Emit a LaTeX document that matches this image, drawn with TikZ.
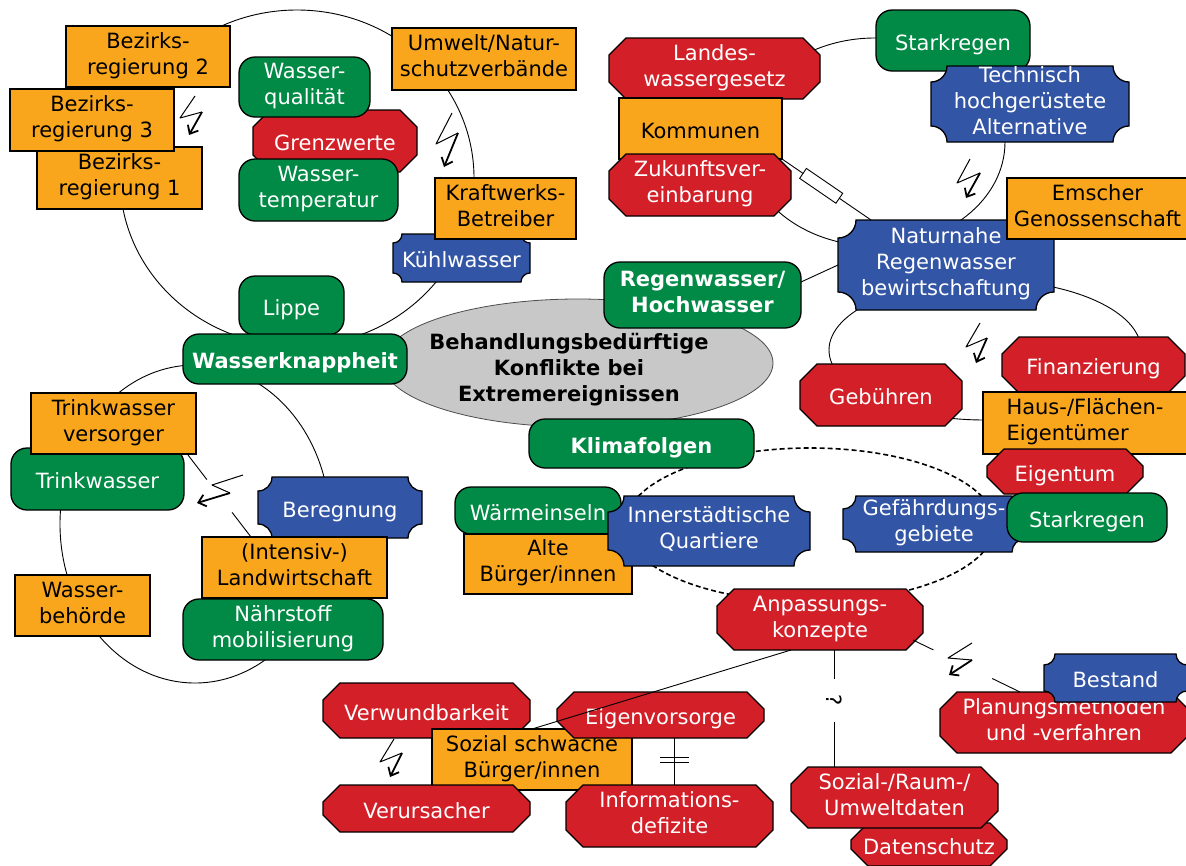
\documentclass[tikz,border=0pt]{standalone}
\usepackage{fontspec}
\setmainfont{DejaVu Sans}
\usetikzlibrary{calc,shapes.geometric,arrows.meta}
\definecolor{cor}{HTML}{F9A61C}
\definecolor{cgr}{HTML}{008A45}
\definecolor{crd}{HTML}{D31F28}
\definecolor{cbl}{HTML}{3355A5}
\definecolor{cgy}{HTML}{C8C8C8}
\tikzset{
  base/.style={inner sep=0pt, outer sep=0pt, align=center, font=\fontsize{21}{26}\selectfont,
    execute at begin node={\rule{0pt}{25pt}}, execute at end node={\rule[-6pt]{0pt}{6pt}}},
  bord/.style={draw=black, line width=1.3pt},
  obox/.style={base, bord, rectangle, fill=cor, text=black},
  gbox/.style={base, bord, rectangle, rounded corners=16pt, fill=cgr, text=white},
  wtxt/.style={base, text=white},
  rshape/.style={bord, fill=crd, line join=miter},
  bshape/.style={bord, fill=cbl},
  ring/.style={line width=0.9pt},
  dring/.style={line width=1.6pt, dash pattern=on 5pt off 3pt},
  boltthin/.style={line width=1pt, line join=round},
  boltarrow/.style={line width=1.8pt, -{Straight Barb[length=7pt,width=12pt]}},
  qmark/.style={inner sep=0pt, font=\fontsize{21}{26}\selectfont, rotate=-90, fill=white, inner xsep=16pt, inner ysep=1pt},
  resist/.style={draw, fill=white, line width=0.9pt, minimum width=44pt, minimum height=12pt, inner sep=0pt},
  boxat/.style n args={4}{minimum width={(#3-#1)*1pt}, minimum height={(#4-#2)*1pt}, at={({(#1+#3)/2},{(#2+#4)/2})}},
}
\newcommand\mkor[6]{\node[obox, boxat={#2}{#3}{#4}{#5}] (#1) {#6};}
\newcommand\mkgr[6]{\node[gbox, boxat={#2}{#3}{#4}{#5}] (#1) {#6};}
\newcommand\mkrd[6]{\draw[rshape] (#2+17,#3) -- (#4-17,#3) -- (#4,#3+17) -- (#4,#5-17) -- (#4-17,#5) -- (#2+17,#5) -- (#2,#5-17) -- (#2,#3+17) -- cycle;
  \node[wtxt, boxat={#2}{#3}{#4}{#5}] (#1) {#6};}
\newcommand\mkbl[7]{\draw[bshape] (#2+#6,#3) -- (#4-#6,#3) arc[start angle=180,end angle=270,radius=#6pt] -- (#4,#5-#6) arc[start angle=90,end angle=180,radius=#6pt] -- (#2+#6,#5) arc[start angle=0,end angle=90,radius=#6pt] -- (#2,#3+#6) arc[start angle=270,end angle=360,radius=#6pt] -- cycle;
  \node[wtxt, boxat={#2}{#3}{#4}{#5}] (#1) {#7};}
\newcommand\mkbolt[8]{\draw[boltthin] (#1,#2) -- (#3,#4) -- (#5,#6); \draw[boltarrow] (#5,#6) -- (#7,#8);}
\begin{document}
\begin{tikzpicture}[x=1pt,y=-1pt]
\fill[white] (0,0) rectangle (1186,865);
\useasboundingbox (0,0) rectangle (1186,865);
% rings
\draw[ring] (297,178) ellipse [x radius=177pt, y radius=168pt];
\draw[ring] (875,142) ellipse [x radius=130pt, y radius=104pt];
\draw[ring] (985,350) ellipse [x radius=156pt, y radius=70pt];
\draw[ring] (195,524) ellipse [x radius=135pt, y radius=159pt];
\draw[dring] (810,525) ellipse [x radius=185pt, y radius=77pt];
% top left group
\mkor{bez2}{66}{26}{230}{87}{Bezirks-\\regierung 2}
\mkor{bez1}{37}{147}{202}{209}{Bezirks-\\regierung 1}
\mkor{bez3}{10}{89}{174}{151}{Bezirks-\\regierung 3}
\mkor{umw}{392}{28}{576}{90}{Umwelt/Natur-\\schutzverbände}
\mkrd{grenz}{253}{110}{417}{172}{Grenzwerte}
\mkgr{wq}{239}{57}{370}{117}{Wasser-\\qualität}
\mkgr{wt}{239}{159}{398}{221}{Wasser-\\temperatur}
\mkbl{kuehl}{393}{234}{530}{282}{9}{Kühlwasser}
\mkor{kraft}{435}{178}{576}{239}{Kraftwerks-\\Betreiber}
\mkgr{lippe}{239}{276}{344}{335}{Lippe}
% center
\node[ellipse, draw=black!70, line width=0.8pt, fill=cgy, minimum width=390pt, minimum height=128pt, inner sep=0pt] (cell) at (578,363) {};
\node[base, font=\fontsize{21}{26}\selectfont\bfseries] (ctext) at (569,370.5) {Behandlungsbedürftige\\Konflikte bei\\Extremereignissen};
\mkgr{wk}{183}{334}{407}{384}{\textbf{Wasserknappheit}}
\mkgr{rw}{604}{262}{801}{328}{\textbf{Regenwasser/}\\\textbf{Hochwasser}}
\mkgr{klima}{529}{419}{754}{468}{\textbf{Klimafolgen}}
% top right group
\mkrd{landes}{609}{38}{820}{99}{Landes-\\wassergesetz}
\mkor{kom}{619}{98}{782}{159}{Kommunen}
\mkrd{zuk}{609}{154}{791}{216}{Zukunftsver-\\einbarung}
\mkgr{stark1}{876}{10}{1030}{71}{Starkregen}
\mkbl{tech}{931}{66}{1129}{142}{16}{Technisch\\hochgerüstete\\Alternative}
\mkbl{nat}{838}{220}{1054}{310}{18}{Naturnahe\\Regenwasser\\bewirtschaftung}
\mkor{ems}{1007}{178}{1188}{239}{Emscher\\Genossenschaft}
% right group
\mkrd{fin}{1002}{337}{1185}{393}{Finanzierung}
\mkrd{geb}{800}{364}{962}{426}{Gebühren}
\node[obox, align=left, boxat={983}{392}{1187}{454}] (haus) {Haus-/Flächen-\\Eigentümer};
\mkrd{eigt}{987}{449}{1143}{494}{Eigentum}
\mkbl{gef}{843}{496}{1025}{552}{13}{Gefährdungs-\\gebiete}
\mkgr{stark2}{1007}{493}{1167}{542}{Starkregen}
% left group
\mkgr{tw}{11}{448}{184}{510}{Trinkwasser}
\mkor{tv}{31}{393}{196}{454}{Trinkwasser\\versorger}
\mkor{wb}{15}{575}{150}{636}{Wasser-\\behörde}
\mkbl{ber}{258}{477}{422}{538}{14}{Beregnung}
\mkor{lw}{202}{537}{387}{598}{(Intensiv-)\\Landwirtschaft}
\mkgr{nm}{183}{599}{383}{660}{Nährstoff\\mobilisierung}
% middle group
\mkgr{wi}{455}{487}{621}{534}{Wärmeinseln}
\mkor{alte}{464}{534}{632}{594}{Alte\\Bürger/innen}
\mkbl{inner}{608}{496}{810}{566}{16}{Innerstädtische\\Quartiere}
\mkrd{anp}{717}{589}{923}{650}{Anpassungs-\\konzepte}
% bottom group
\mkrd{verw}{323}{683}{530}{738}{Verwundbarkeit}
\mkor{soz}{432}{729}{632}{790}{Sozial schwache\\Bürger/innen}
\mkrd{eigv}{557}{692}{764}{738}{Eigenvorsorge}
\mkrd{veru}{323}{785}{530}{832}{Verursacher}
\mkrd{info}{566}{785}{773}{847}{Informations-\\defizite}
\mkrd{dat}{851}{823}{1007}{866}{Datenschutz}
\mkrd{srd}{791}{767}{998}{828}{Sozial-/Raum-/\\Umweltdaten}
\mkrd{plan}{940}{692}{1188}{753}{Planungsmethoden\\und -verfahren}
\mkbl{best}{1044}{654}{1187}{702}{11}{Bestand}
% connectors
\draw[ring] (kom.south east) -- node[resist, pos=0.44, sloped]{} ($(nat.north west)+(33,0)$);
\draw[ring] ($(rw.east)+(0,-13)$) -- (nat.west);
\coordinate (tvA) at ($(tv.south east)+(-8,1)$);
\coordinate (lwA) at ($(lw.north west)+(49,0)$);
\draw[ring] (tvA) -- ($(tvA)!0.3!(lwA)$);
\draw[ring] ($(tvA)!0.7!(lwA)$) -- (lwA);
\coordinate (anpB) at ($(anp.south east)+(-10,-10)$);
\coordinate (planB) at ($(plan.north west)+(80,0)$);
\draw[ring] (anpB) -- ($(anpB)!0.19!(planB)$);
\draw[ring] ($(anpB)!0.74!(planB)$) -- (planB);
\coordinate (qa) at ($(anp.south)+(14,0)$);
\draw[ring] (qa) -- node[qmark, pos=0.43]{?} (qa |- srd.north);
\coordinate (ea) at ($(info.north)+(4.5,0)$);
\draw[ring] (ea |- eigv.south) -- (ea);
\draw[ring] ($(ea)+(-14,-28)$) -- ++(29,0) ($(ea)+(-14,-23)$) -- ++(29,0);
\draw[ring] ($(anp.south)+(-29,0)$) -- (soz.north);
% conflict bolts
\mkbolt{195}{96}{180}{118}{202}{112}{189}{135}
\mkbolt{452}{113}{436}{144}{458}{133}{444}{167}
\mkbolt{970}{159}{957}{183}{980}{173}{966}{198}
\mkbolt{980}{323}{966}{347}{987}{338}{976}{363}
\mkbolt{243}{475}{212}{485}{230}{493}{197}{503}
\mkbolt{972}{643}{948}{658}{972}{660}{949}{675}
\mkbolt{394}{739}{380}{762}{402}{753}{390}{777}
\end{tikzpicture}
\end{document}
